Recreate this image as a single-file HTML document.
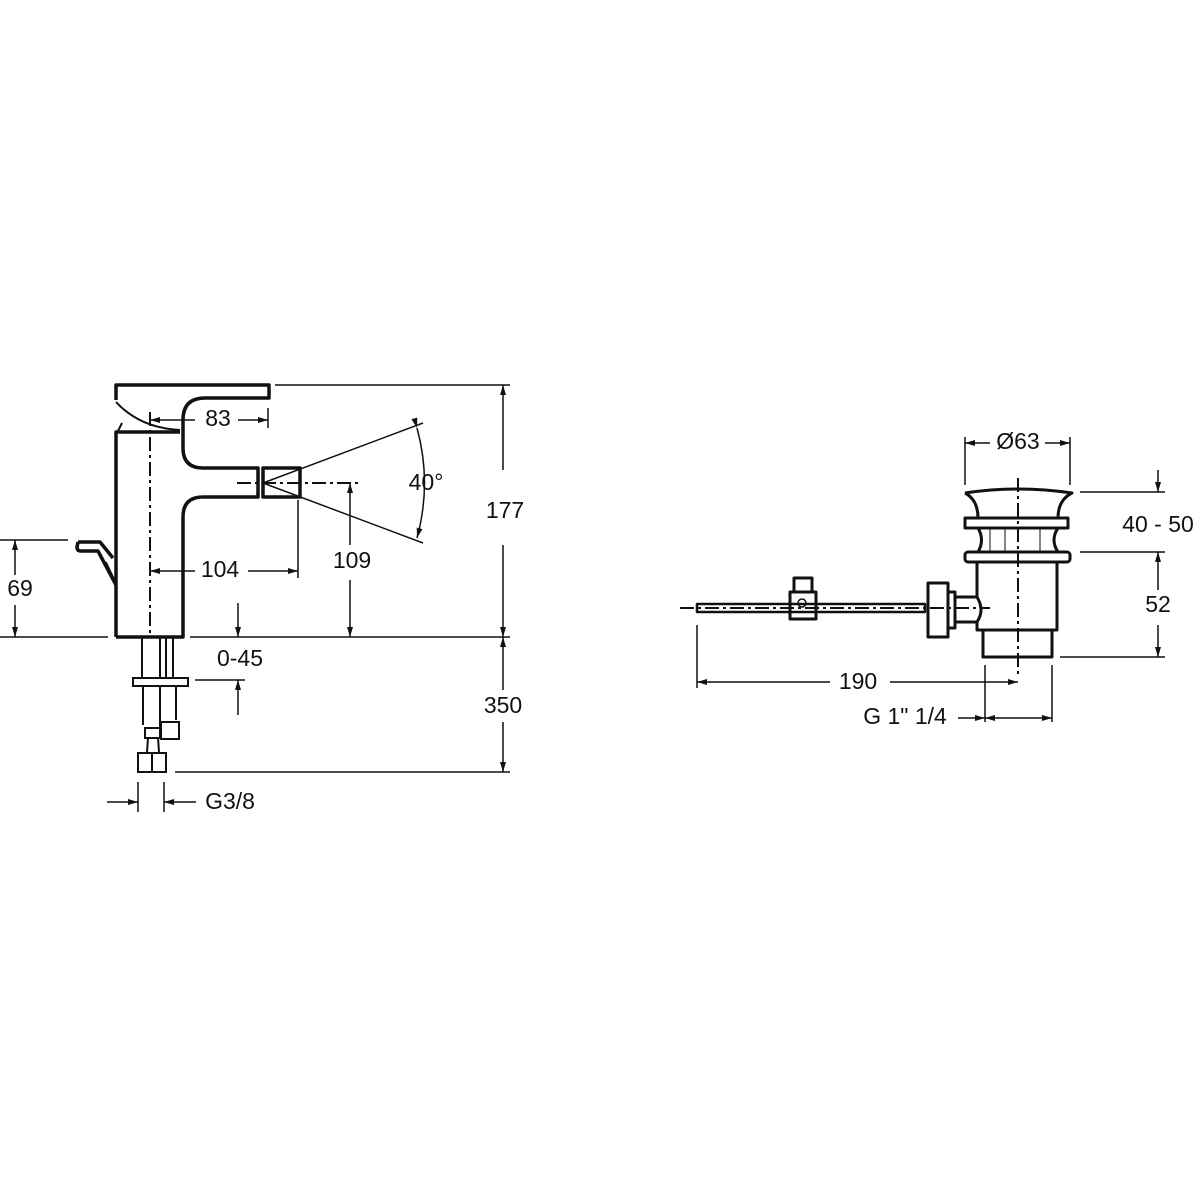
<!DOCTYPE html>
<html><head><meta charset="utf-8"><style>
html,body{margin:0;padding:0;background:#fff;}
svg{display:block}
text{font-family:"Liberation Sans",sans-serif;font-size:23px;fill:#111;text-anchor:middle;dominant-baseline:middle}
</style></head><body>
<svg width="1200" height="1200" viewBox="0 0 1200 1200" xmlns="http://www.w3.org/2000/svg">
<defs>
<marker id="a" viewBox="0 0 10 6" refX="10" refY="3" markerWidth="16" markerHeight="6" markerUnits="userSpaceOnUse" orient="auto"><path d="M0,0L10,3L0,6z" fill="#111"/></marker>
</defs>
<g fill="none" stroke="#111">
<g stroke-width="3.5" stroke-linejoin="round">
<path d="M116,637 V432 H180"/>
<path d="M116,400 V385 H269 V398 H205 Q183,398 183,420 V448 Q183,468 203,468 H258 V497 H203 Q183,497 183,517 V637 H116"/>
<rect x="263" y="468" width="37" height="29"/>
<path d="M78,542 L77,547 Q77,551 81,551 H98 L116,585"/>
<path d="M78,542 H100 L113,558"/>
</g>
<path d="M116,402 Q140,428 180,430" stroke-width="2"/>
<path d="M122,423 L118,431" stroke-width="2"/>
<path d="M106,562 L117,585" stroke-width="1.5"/>
<g stroke-width="2">
<path d="M142,637 V678 M160,637 V678 M166,637 V678 M173,637 V678"/>
<rect x="133" y="678" width="55" height="8"/>
<path d="M143,686 V725 M160,686 V727 M176,686 V720"/>
<rect x="161" y="722" width="18" height="17"/>
<path d="M145,728 H160 V738 H145z M148,738 L147,752 M158,738 L159,752"/>
<rect x="138" y="753" width="28" height="19"/>
<path d="M152,753 V772"/>
</g>
<g stroke-width="2" stroke-dasharray="14,4,3,4">
<path d="M150,412 V637"/>
<path d="M237,483 H360"/>
</g>
<g stroke-width="1.5">
<path d="M263,483 L423,423 M263,483 L423,543"/>
<path d="M417,428 Q432,483 417,538" marker-start="url(#a)" marker-end="url(#a)"/>
</g>
<g stroke-width="1.5">
<path d="M275,385 H510 M190,637 H510 M0,637 H108 M175,772 H510 M0,540 H68"/>
<path d="M503,470 V385" marker-end="url(#a)"/><path d="M503,545 V637" marker-end="url(#a)"/>
<path d="M503,690 V637" marker-end="url(#a)"/><path d="M503,722 V772" marker-end="url(#a)"/>
<path d="M15,575 V540" marker-end="url(#a)"/><path d="M15,605 V637" marker-end="url(#a)"/>
<path d="M350,545 V483" marker-end="url(#a)"/><path d="M350,580 V637" marker-end="url(#a)"/>
<path d="M195,571 H150" marker-end="url(#a)"/><path d="M248,571 H298" marker-end="url(#a)"/>
<path d="M298,500 V578"/>
<path d="M195,420 H150" marker-end="url(#a)"/><path d="M238,420 H268" marker-end="url(#a)"/>
<path d="M268,408 V428"/>
<path d="M238,603 V637" marker-end="url(#a)"/><path d="M238,715 V680" marker-end="url(#a)"/>
<path d="M195,680 H245"/>
<path d="M138,782 V812 M164,782 V812"/>
<path d="M107,802 H138" marker-end="url(#a)"/><path d="M196,802 H164" marker-end="url(#a)"/>
</g>
<g stroke-width="3" stroke-linejoin="round">
<path d="M965,493 Q1018,485 1072,493 Q1058,500 1058,518 M965,493 Q978,500 978,518"/>
<rect x="965" y="518" width="103" height="10"/>
<path d="M978,528 Q985,540 978,552 M1058,528 Q1050,540 1058,552"/>
<rect x="965" y="552" width="105" height="10" rx="3"/>
<path d="M977,562 V597 M1057,562 V630 H977 V622"/>
<path d="M983,630 V657 H1052 V630"/>
<path d="M977,597 Q985,610 977,622"/>
<path d="M955,597 H977 M955,622 H977"/>
<path d="M928,583 H948 V637 H928z"/>
<path d="M948,592 H955 V628 H948"/>
<path d="M697,604 H925 V612 H697z" stroke-width="2.5"/>
<rect x="790" y="592" width="26" height="27"/>
<rect x="794" y="578" width="18" height="14"/>
</g>
<path d="M990,528 V552 M1005,528 V552 M1040,528 V552" stroke-width="1"/>
<circle cx="802" cy="603" r="4" stroke-width="1.5"/>
<g stroke-width="2" stroke-dasharray="14,4,3,4">
<path d="M1018,478 V675"/>
<path d="M680,608 H990"/>
</g>
<g stroke-width="1.5">
<path d="M965,437 V485 M1070,437 V485"/>
<path d="M990,443 H965" marker-end="url(#a)"/><path d="M1045,443 H1070" marker-end="url(#a)"/>
<path d="M1080,492 H1165 M1080,552 H1165 M1060,657 H1165"/>
<path d="M1158,470 V492" marker-end="url(#a)"/>
<path d="M1158,590 V552" marker-end="url(#a)"/><path d="M1158,625 V657" marker-end="url(#a)"/>
<path d="M697,625 V688 M985,665 V722 M1052,665 V722"/>
<path d="M830,682 H697" marker-end="url(#a)"/><path d="M890,682 H1018" marker-end="url(#a)"/>
<path d="M958,718 H985" marker-end="url(#a)"/><path d="M1020,718 H985" marker-end="url(#a)"/><path d="M1020,718 H1052" marker-end="url(#a)"/>
</g>
</g>
<text x="218" y="420">83</text>
<text x="426" y="484">40°</text>
<text x="505" y="512">177</text>
<text x="20" y="590">69</text>
<text x="220" y="571">104</text>
<text x="352" y="562">109</text>
<text x="240" y="660">0-45</text>
<text x="503" y="707">350</text>
<text x="230" y="803">G3/8</text>
<text x="1018" y="443">Ø63</text>
<text x="1158" y="526">40 - 50</text>
<text x="1158" y="606">52</text>
<text x="858" y="683">190</text>
<text x="905" y="718">G 1" 1/4</text>
</svg>
</body></html>
